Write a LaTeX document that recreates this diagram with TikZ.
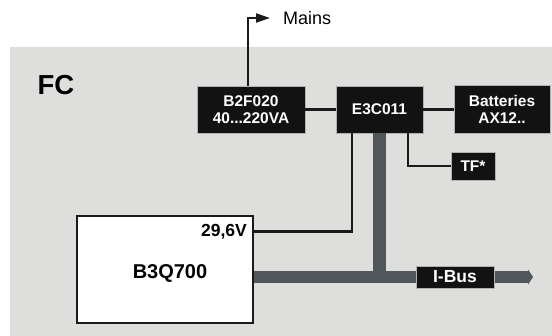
\documentclass[tikz,border=0pt]{standalone}
\usepackage{fontspec}
\setmainfont{Liberation Sans}
\usetikzlibrary{arrows.meta,positioning}
\definecolor{panelgrey}{HTML}{DEDEDC}
\definecolor{boxblack}{HTML}{121212}
\definecolor{busslate}{HTML}{4F575A}
\definecolor{wireblack}{HTML}{1A1A1A}

\begin{document}
\begin{tikzpicture}[
  x=1pt, y=-1pt,
  blackbox/.style={rectangle, draw=gray!60, fill=boxblack, line width=0.6pt, text=white, align=center, inner sep=0pt, font=\fontsize{15.5}{17.5}\selectfont\bfseries},
  unitbox/.style={rectangle, draw=wireblack, fill=white, line width=2.6pt, inner sep=0pt, minimum width=176pt, minimum height=107pt},
  wire/.style={draw=wireblack, line width=2.1pt},
  bus/.style={draw=busslate, line width=12.6pt},
  mainsarrow/.style={-{Triangle[length=14pt,width=9pt]}, wire}
]

\useasboundingbox (0,0) rectangle (552,336);
\fill[panelgrey] (10,47) rectangle (552,336);

\node[font=\fontsize{27.5}{30}\selectfont\bfseries] (fc) at (56,85) {FC};

\node[blackbox, minimum width=108pt, minimum height=47pt] (b2f) at (251,109.5) {B2F020\\40...220VA};
\node[blackbox, minimum width=87pt, minimum height=47pt] (e3c) at (379.5,109.5) {E3C011};
\node[blackbox, minimum width=96pt, minimum height=48pt] (batt) at (502,109.5) {Batteries\\AX12..};
\node[blackbox, minimum width=44pt, minimum height=28pt] (tf) at (473,166) {TF*};

\node[unitbox] (b3q) at (165,269.5) {};
\node[font=\fontsize{20}{22}\selectfont\bfseries] (b3qname) at (170,273.5) {B3Q700};
\node[font=\fontsize{17.5}{19}\selectfont\bfseries, anchor=east, inner sep=0pt] (volt) at (247,231.5) {29,6V};

\node[font=\fontsize{18}{20}\selectfont, anchor=west, inner sep=0pt] (mains) at (283,18) {Mains};
\coordinate (busend) at (533,277);

% wires
\draw[mainsarrow] ([xshift=-3pt]b2f.north) |- ([xshift=-13pt]mains.west);
\draw[wire] (b2f.east) -- (e3c.west);
\draw[wire] (e3c.east) -- (batt.west);
\draw[wire] ([xshift=28.5pt]e3c.south) |- (tf.west);
\draw[wire] ([xshift=-27.5pt]e3c.south) |- (b3q.east |- volt);

% I-Bus
\draw[bus, -{Triangle[length=5pt,width=15pt]}] (b3q.east |- busend) -- (busend);
\draw[bus] (e3c.south) -- ([yshift=-6.3pt]e3c.south |- busend);
\node[blackbox, minimum width=78pt, minimum height=22pt, font=\fontsize{17.5}{19}\selectfont\bfseries] (ibus) at (455,277) {I-Bus};

\end{tikzpicture}
\end{document}
